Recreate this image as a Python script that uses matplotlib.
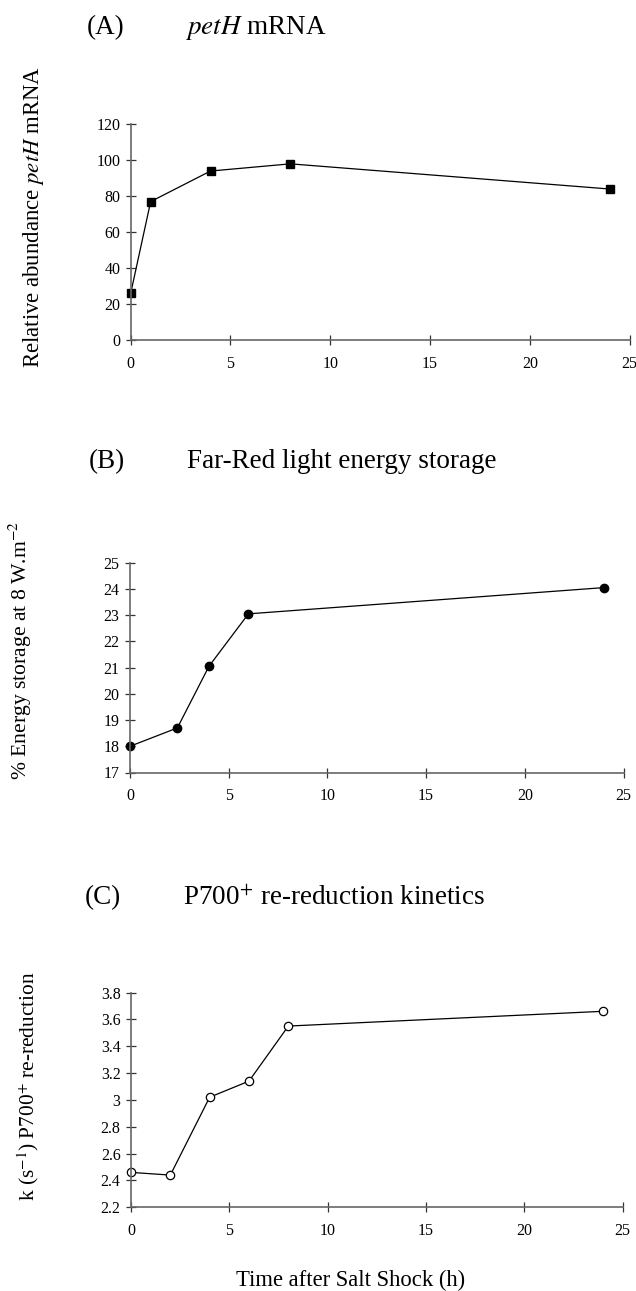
import matplotlib
matplotlib.use("Agg")
import matplotlib.pyplot as plt

plt.rcParams['font.family'] = ['Liberation Serif', 'DejaVu Serif']
plt.rcParams['mathtext.fontset'] = 'stix'

# Data
a_time = [0, 1, 4, 8, 24]
a_mrna = [26, 77, 94, 98, 84]
b_time = [0, 2.4, 4, 6, 24]
b_storage = [18.0, 18.7, 21.05, 23.05, 24.05]
c_time = [0, 2, 4, 6, 8, 24]
c_k = [2.46, 2.44, 3.02, 3.14, 3.55, 3.66]

x_ticks = [0, 5, 10, 15, 20, 25]
a_yticks = [0, 20, 40, 60, 80, 100, 120]
b_yticks = [17, 18, 19, 20, 21, 22, 23, 24, 25]
c_yticks = [2.2, 2.4, 2.6, 2.8, 3.0, 3.2, 3.4, 3.6, 3.8]
c_ylabels = ['2.2', '2.4', '2.6', '2.8', '3', '3.2', '3.4', '3.6', '3.8']

W, H = 636, 1291
fig = plt.figure(figsize=(W / 100, H / 100), dpi=100)

def ax_at(left, right, top, bottom):
    return fig.add_axes([left / W, 1 - bottom / H, (right - left) / W, (bottom - top) / H])

spine_col = '#666666'

def style(ax, xlim, ylim, yticks, ylabels=None):
    ax.set_xlim(*xlim)
    ax.set_ylim(*ylim)
    for s in ['top', 'right']:
        ax.spines[s].set_visible(False)
    for s in ['left', 'bottom']:
        ax.spines[s].set_color(spine_col)
        ax.spines[s].set_linewidth(1.2)
    ax.set_xticks(x_ticks)
    ax.set_yticks(yticks)
    if ylabels is not None:
        ax.set_yticklabels(ylabels)
    ax.tick_params(direction='inout', length=7, width=0.9, color='#333333',
                   labelsize=11.5)
    ax.tick_params(axis='x', pad=8)
    ax.tick_params(axis='y', pad=4)
    ax.patch.set_alpha(0)

# Panel A
axA = ax_at(130.7, 629.6, 124.3, 340.0)
axA.plot(a_time, a_mrna, color='black', lw=0.9, marker='s', ms=6, mfc='black', mec='black', clip_on=False)
style(axA, (0, 25), (0, 120), a_yticks)

# Panel B
axB = ax_at(130.0, 623.5, 562.7, 772.5)
axB.plot(b_time, b_storage, color='black', lw=0.9, marker='o', ms=6, mfc='black', mec='black', clip_on=False)
style(axB, (0, 25), (17, 25), b_yticks)

# Panel C
axC = ax_at(131.0, 622.7, 992.5, 1207.3)
axC.plot(c_time, c_k, color='black', lw=0.9, marker='o', ms=6, mfc='white', mec='black', mew=0.9, clip_on=False)
style(axC, (0, 25), (2.2, 3.8), c_yticks, c_ylabels)

def ftext(x, y, s, **kw):
    fig.text(x / W, 1 - y / H, s, **kw)

# Titles
TS = 19.5
ftext(87, 28, '(A)', fontsize=TS, va='center', ha='left')
ftext(185, 28, r'$\mathit{petH}$ mRNA', fontsize=TS, va='center', ha='left')
ftext(89, 462, '(B)', fontsize=TS, va='center', ha='left')
ftext(187, 462, 'Far-Red light energy storage', fontsize=TS, va='center', ha='left')
ftext(85, 898, '(C)', fontsize=TS, va='center', ha='left')
ftext(183, 898, r'P700$^{+}$ re-reduction kinetics', fontsize=TS, va='center', ha='left')

# Y labels
ftext(34, 217, r'Relative abundance $\mathit{petH}$ mRNA', fontsize=16.4, rotation=90, va='center', ha='center')
ftext(20, 651, r'% Energy storage at 8 W.m$^{-2}$', fontsize=15.6, rotation=90, va='center', ha='center')
ftext(28, 1086, r'k (s$^{-1}$) P700$^{+}$ re-reduction', fontsize=15.4, rotation=90, va='center', ha='center')

# X label
ftext(351, 1280, 'Time after Salt Shock (h)', fontsize=16.3, va='center', ha='center')

fig.savefig('out.png', dpi=100, facecolor='white')
